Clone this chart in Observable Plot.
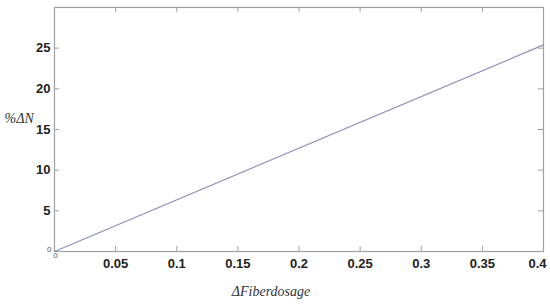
<!DOCTYPE html>
<html><head><meta charset="utf-8">
<script src="https://cdn.jsdelivr.net/npm/d3@7"></script>
<script src="https://cdn.jsdelivr.net/npm/@observablehq/plot@0.6"></script>
<style>body{margin:0;background:#fff}</style>
</head><body><div id="chart"></div>
<script>
const dosage = [0, 0.4];
const pctDeltaN = [0, 25.4];
const xTicks = [0.05, 0.1, 0.15, 0.2, 0.25, 0.3, 0.35, 0.4];
const yTicks = [5, 10, 15, 20, 25];
const xLabel = "ΔFiberdosage";
const yLabel = "%ΔN";

const data = dosage.map((x, i) => ({x, y: pctDeltaN[i]}));
const axisColor = "#a0a0a0";
const innerH = 306 - 7 - 55;
const innerW = 550 - 54 - 7;
const lastTick = xTicks[xTicks.length - 1];

const chart = Plot.plot({
  width: 550, height: 306,
  marginLeft: 54, marginRight: 7, marginTop: 7, marginBottom: 55,
  x: {domain: [0, 0.4]},
  y: {domain: [0, 30]},
  style: {fontFamily: "Liberation Sans, Arial, sans-serif", background: "#fff"},
  marks: [
    Plot.frame({stroke: axisColor, strokeWidth: 1.2}),
    Plot.ruleX(xTicks, {x: d => d, insetTop: innerH - 5, stroke: axisColor}),
    Plot.ruleX(xTicks, {x: d => d, insetBottom: innerH - 5, stroke: axisColor}),
    Plot.ruleY(yTicks, {y: d => d, insetRight: innerW - 5, stroke: axisColor}),
    Plot.ruleY(yTicks, {y: d => d, insetLeft: innerW - 5, stroke: axisColor}),
    Plot.axisX(xTicks.filter(d => d !== lastTick), {tickSize: 0, tickPadding: 7, fontSize: 13, fontWeight: "bold", fill: "#222", label: null, tickFormat: d => String(d)}),
    Plot.text([lastTick], {x: d => d, frameAnchor: "bottom", dy: 7, dx: -6, lineAnchor: "top", text: d => String(d), fontSize: 13, fontWeight: "bold", fill: "#222"}),
    Plot.axisY(yTicks, {tickSize: 0, tickPadding: 4, fontSize: 13, fontWeight: "bold", fill: "#222", label: null}),
    Plot.text(["0"], {frameAnchor: "bottom-left", dx: -3, dy: 0, textAnchor: "end", fontSize: 8, fill: "#555"}),
    Plot.text(["0"], {frameAnchor: "bottom-left", dx: 1, dy: 6, textAnchor: "middle", fontSize: 8, fill: "#555"}),
    Plot.line(data, {x: "x", y: "y", stroke: "#8b8fb9", strokeWidth: 1.2}),
    Plot.text([yLabel], {frameAnchor: "top-left", dx: -50, dy: 106, textAnchor: "start", fontSize: 14, fontStyle: "italic", fontFamily: "Liberation Serif, Times New Roman, serif", fill: "#333"}),
    Plot.text([xLabel], {frameAnchor: "bottom", dx: -28, dy: 44, fontSize: 14, fontStyle: "italic", fontFamily: "Liberation Serif, Times New Roman, serif", fill: "#333"})
  ]
});
document.getElementById("chart").appendChild(chart);
</script>
</body></html>
